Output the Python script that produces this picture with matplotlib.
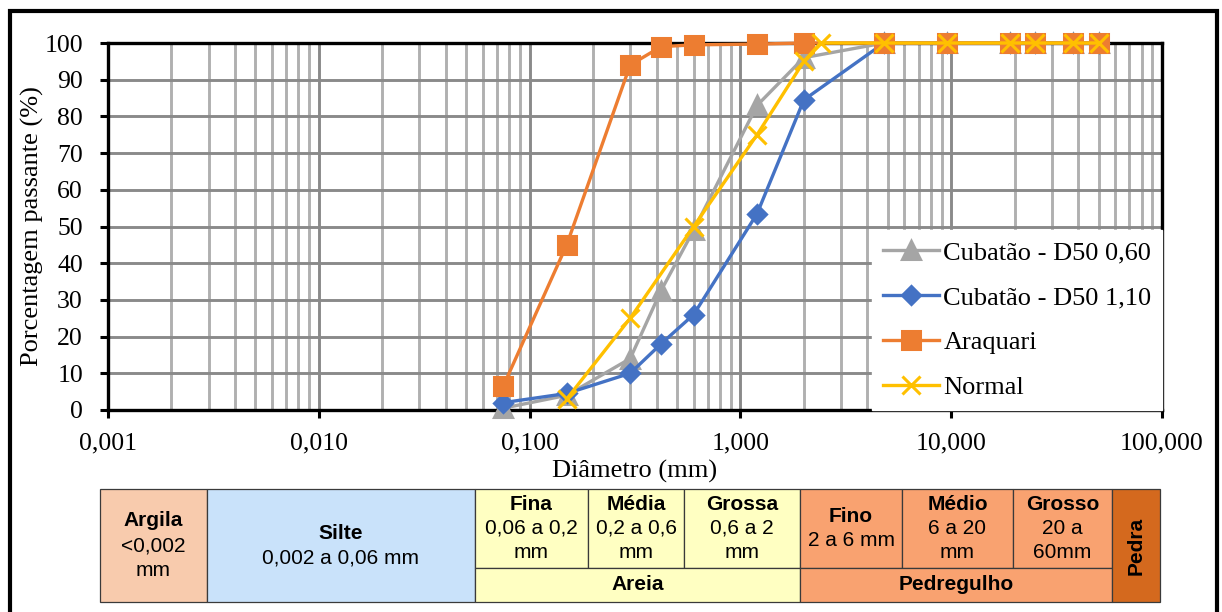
import matplotlib
matplotlib.use("Agg")
import matplotlib.pyplot as plt
from matplotlib.patches import Rectangle
from matplotlib.ticker import LogLocator, FuncFormatter, MultipleLocator

plt.rcParams['font.family'] = ['Liberation Serif', 'DejaVu Serif']

# Peneiras (mm) e porcentagem passante
diam = [0.075, 0.15, 0.3, 0.42, 0.6, 1.2, 2.0, 4.8, 9.5, 19, 25, 38, 50]
cub_060 = [0.5, 4, 14, 32.5, 49, 83, 96, 100, 100, 100, 100, 100, 100]
cub_110 = [2, 4.5, 10, 18, 26, 53.5, 84.5, 100, 100, 100, 100, 100, 100]
araquari = [6.5, 45, 94, 99, 99.5, 99.7, 100, 100, 100, 100, 100, 100, 100]
diam_normal = [0.15, 0.3, 0.6, 1.2, 2.0, 2.4, 4.8, 9.5, 19, 25, 38, 50]
normal = [3, 25, 50, 75, 95, 100, 100, 100, 100, 100, 100, 100]

# Classificacao granulometrica (faixa de baixo)
classes_top = ["Argila", "Silte", "Fina", "Média", "Grossa", "Fino", "Médio", "Grosso"]
classes_range = ["<0,002\nmm", "0,002 a 0,06 mm", "0,06 a 0,2\nmm", "0,2 a 0,6\nmm",
                 "0,6 a 2\nmm", "2 a 6 mm", "6 a 20\nmm", "20 a\n60mm"]
groups = ["Areia", "Pedregulho"]
pedra = "Pedra"

W, H = 1222, 612
fig = plt.figure(figsize=(W / 100, H / 100), dpi=100)
ax = fig.add_axes([108 / W, 1 - 410 / H, (1162 - 108) / W, (410 - 43) / H])

styles = [
    ("Cubatão - D50 0,60", diam, cub_060, "#A5A5A5", "^", 12.5),
    ("Cubatão - D50 1,10", diam, cub_110, "#4472C4", "D", 9.5),
    ("Araquari", diam, araquari, "#ED7D31", "s", 13),
    ("Normal", diam_normal, normal, "#FFC000", "x", 13),
]
for i, (lab, x, y, c, m, ms) in enumerate(styles):
    ax.plot(x, y, color=c, lw=2.4, marker=m, ms=ms, mew=2.2, label=lab,
            clip_on=False, zorder=3 + i)

ax.set_xscale("log")
ax.set_xlim(0.001, 100)
ax.set_ylim(0, 100)
ax.yaxis.set_major_locator(MultipleLocator(10))
ax.xaxis.set_major_locator(LogLocator(base=10))
ax.xaxis.set_minor_locator(LogLocator(base=10, subs=range(2, 10)))
ax.xaxis.set_major_formatter(FuncFormatter(lambda v, p: f"{v:.3f}".replace(".", ",")))

ax.set_axisbelow(True)
ax.grid(which="major", color="#8a8a8a", lw=2.1)
ax.grid(which="minor", axis="x", color="#b0b0b0", lw=2.1)

for s in ax.spines.values():
    s.set_linewidth(2.4)
    s.set_color("black")
ax.tick_params(which="major", direction="out", length=6, width=2.2, labelsize=18.5)
ax.tick_params(axis="y", pad=12)
ax.tick_params(axis="x", pad=10)
ax.tick_params(which="minor", length=0)

ax.set_ylabel("Porcentagem passante (%)", fontsize=19, labelpad=0)
ax.set_xlabel("Diâmetro (mm)", fontsize=19, labelpad=4)

leg = ax.legend(loc="lower right", bbox_to_anchor=(1, 0), borderaxespad=0,
                fontsize=19, frameon=True, fancybox=False, framealpha=1,
                facecolor="white", edgecolor="white", handlelength=2.15,
                handletextpad=0.15, borderpad=0.4, labelspacing=0.82)
leg.set_zorder(10)


# Faixa de classificacao em coordenadas de pixel
def fx(x):
    return x / W


def fy(y):
    return 1 - y / H


def cell(x0, x1, y0, y1, color):
    fig.add_artist(Rectangle((fx(x0), fy(y1)), fx(x1) - fx(x0), fy(y0) - fy(y1),
                             transform=fig.transFigure, facecolor=color,
                             edgecolor="#3a3a3a", lw=0.9))


def block(xc, yc, title, rng, step=24.5):
    lines = [title] + (rng.split("\n") if rng else [])
    n = len(lines)
    for i, t in enumerate(lines):
        y = yc + (i - (n - 1) / 2) * step
        fig.text(fx(xc), fy(y), t, ha="center", va="center", fontsize=15,
                 family="Liberation Sans", fontweight="bold" if i == 0 else "normal")


top, mid, bot = 489, 568, 602
edges = [100, 207, 475, 588, 684, 800, 902, 1013, 1112]
fills = ["#F8CBAD", "#C9E2FA", "#FFFFC2", "#FFFFC2", "#FFFFC2", "#F9A270", "#F9A270", "#F9A270"]

cell(edges[0], edges[1], top, bot, fills[0])
cell(edges[1], edges[2], top, bot, fills[1])
for k in range(2, 8):
    cell(edges[k], edges[k + 1], top, mid, fills[k])
cell(edges[2], edges[5], mid, bot, fills[2])
cell(edges[5], edges[8], mid, bot, fills[5])
cell(edges[8], 1160, top, bot, "#D4691E")

for k in range(8):
    xc = (edges[k] + edges[k + 1]) / 2
    yc = (top + bot) / 2 if k < 2 else (top + mid) / 2
    block(xc, yc, classes_top[k], classes_range[k])
block((edges[2] + edges[5]) / 2, (mid + bot) / 2, groups[0], "")
block((edges[5] + edges[8]) / 2, (mid + bot) / 2, groups[1], "")
fig.text(fx((edges[8] + 1160) / 2), fy((top + bot) / 2), pedra, rotation=90,
         ha="center", va="center", fontsize=15, family="Liberation Sans", fontweight="bold")

# Moldura externa
fig.add_artist(Rectangle((fx(10), fy(640)), fx(1217) - fx(10), fy(11) - fy(640),
                         transform=fig.transFigure, fill=False, edgecolor="black",
                         lw=3, clip_on=False))

fig.savefig("out.png", dpi=100, facecolor="white")
